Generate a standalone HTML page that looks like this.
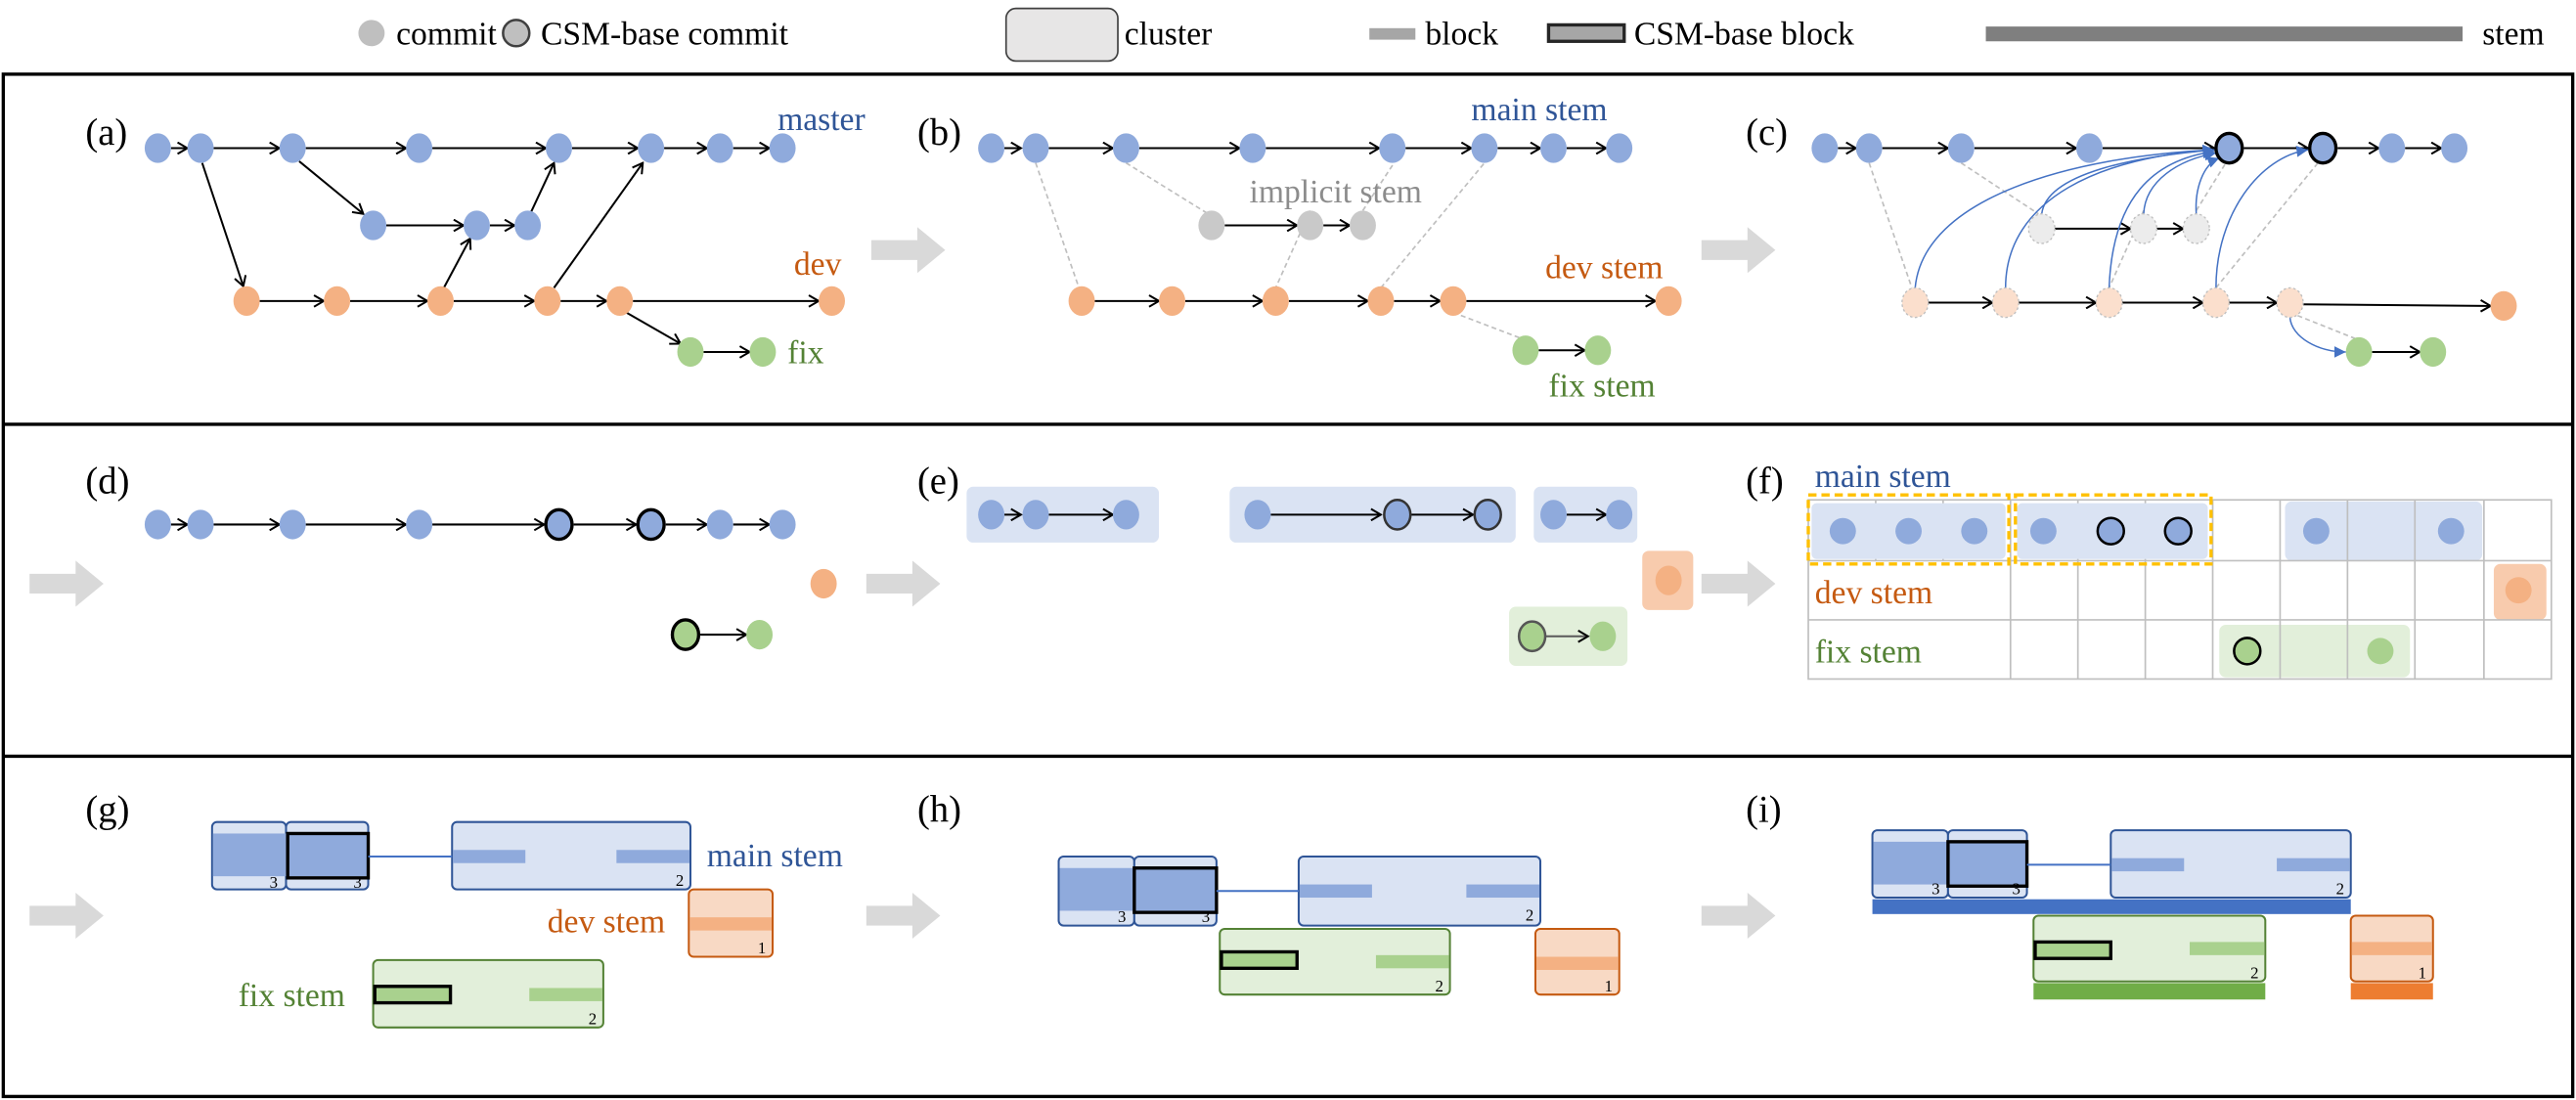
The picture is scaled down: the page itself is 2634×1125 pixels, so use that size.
<!DOCTYPE html>
<html><head><meta charset="utf-8"><style>html,body{margin:0;padding:0;background:#fff}svg{display:block}text{font-family:"Liberation Serif","Times New Roman","DejaVu Serif",serif !important}</style></head>
<body>
<svg width="2634" height="1125" viewBox="0 0 1567 669" xmlns="http://www.w3.org/2000/svg" font-family="Liberation Serif">
<defs>
<marker id="ar" markerWidth="8" markerHeight="8" refX="7" refY="4" orient="auto" markerUnits="userSpaceOnUse"><path d="M1,0.5 L7,4 L1,7.5" fill="none" stroke="#000" stroke-width="1.2"/></marker>
<marker id="ab" markerWidth="8" markerHeight="8" refX="7" refY="4" orient="auto" markerUnits="userSpaceOnUse"><path d="M0,0.5 L7,4 L0,7.5 Z" fill="#4472c4"/></marker>
<g id="gar"><polygon points="0,-6 28,-6 28,-14 45,0 28,14 28,6 0,6" fill="#d9d9d9"/></g>
</defs>
<rect width="1567" height="669" fill="#fff"/>
<!-- legend -->
<g font-size="20" font-family="Liberation Serif">
<circle cx="226" cy="20" r="8" fill="#bfbfbf"/><text x="241" y="27">commit</text>
<circle cx="314" cy="20" r="8" fill="#bfbfbf" stroke="#404040" stroke-width="1.5"/><text x="329" y="27">CSM-base commit</text>
<rect x="612" y="5" width="68" height="32" rx="6" fill="#e7e6e6" stroke="#404040" stroke-width="1"/><text x="684" y="27">cluster</text>
<rect x="833" y="17" width="28" height="7" fill="#a6a6a6"/><text x="867" y="27">block</text>
<rect x="942" y="15" width="46" height="10" fill="#a6a6a6" stroke="#262626" stroke-width="2"/><text x="994" y="27">CSM-base block</text>
<rect x="1208" y="16" width="290" height="9" fill="#7f7f7f"/><text x="1510" y="27">stem</text>
</g>
<!-- panels -->
<g fill="none" stroke="#000" stroke-width="2">
<rect x="2" y="45" width="1563" height="622"/>
<line x1="2" y1="258" x2="1565" y2="258"/><line x1="2" y1="460" x2="1565" y2="460"/>
</g>
<!-- gray arrows -->
<use href="#gar" x="530" y="152"/><use href="#gar" x="1035" y="152"/>
<use href="#gar" x="18" y="355"/><use href="#gar" x="527" y="355"/><use href="#gar" x="1035" y="355"/>
<use href="#gar" x="18" y="557"/><use href="#gar" x="527" y="557"/><use href="#gar" x="1035" y="557"/>
<g font-size="23" font-family="Liberation Serif"><text x="52" y="88">(a)</text><text x="558" y="88">(b)</text><text x="1062" y="88">(c)</text>
<text x="52" y="300">(d)</text><text x="558" y="300">(e)</text><text x="1062" y="300">(f)</text>
<text x="52" y="500">(g)</text><text x="558" y="500">(h)</text><text x="1062" y="500">(i)</text></g>

<!-- (a) -->
<g stroke="#000" stroke-width="1.2" marker-end="url(#ar)">
<line x1="104" y1="90" x2="114" y2="90"/><line x1="130" y1="90" x2="170" y2="90"/><line x1="186" y1="90" x2="247" y2="90"/><line x1="263" y1="90" x2="332" y2="90"/><line x1="348" y1="90" x2="388" y2="90"/><line x1="404" y1="90" x2="430" y2="90"/><line x1="446" y1="90" x2="468" y2="90"/>
<line x1="235" y1="137" x2="282" y2="137"/><line x1="298" y1="137" x2="313" y2="137"/>
<line x1="158" y1="183" x2="197" y2="183"/><line x1="213" y1="183" x2="260" y2="183"/><line x1="276" y1="183" x2="325" y2="183"/><line x1="341" y1="183" x2="369" y2="183"/><line x1="385" y1="183" x2="498" y2="183"/>
<line x1="428" y1="214" x2="456" y2="214"/>
<line x1="123" y1="99" x2="148" y2="174"/><line x1="182" y1="98" x2="221" y2="130"/><line x1="270" y1="175" x2="286" y2="145"/><line x1="323" y1="129" x2="337" y2="99"/><line x1="337" y1="175" x2="391" y2="99"/><line x1="381" y1="190" x2="414" y2="209"/>
</g>
<g fill="#8faadc"><ellipse cx="96" cy="90" rx="8" ry="9"/><ellipse cx="122" cy="90" rx="8" ry="9"/><ellipse cx="178" cy="90" rx="8" ry="9"/><ellipse cx="255" cy="90" rx="8" ry="9"/><ellipse cx="340" cy="90" rx="8" ry="9"/><ellipse cx="396" cy="90" rx="8" ry="9"/><ellipse cx="438" cy="90" rx="8" ry="9"/><ellipse cx="476" cy="90" rx="8" ry="9"/>
<ellipse cx="227" cy="137" rx="8" ry="9"/><ellipse cx="290" cy="137" rx="8" ry="9"/><ellipse cx="321" cy="137" rx="8" ry="9"/></g>
<g fill="#f4b183"><ellipse cx="150" cy="183" rx="8" ry="9"/><ellipse cx="205" cy="183" rx="8" ry="9"/><ellipse cx="268" cy="183" rx="8" ry="9"/><ellipse cx="333" cy="183" rx="8" ry="9"/><ellipse cx="377" cy="183" rx="8" ry="9"/><ellipse cx="506" cy="183" rx="8" ry="9"/></g>
<g fill="#a9d18e"><ellipse cx="420" cy="214" rx="8" ry="9"/><ellipse cx="464" cy="214" rx="8" ry="9"/></g>
<g font-size="20" font-family="Liberation Serif"><text x="473" y="79" fill="#2f5597">master</text><text x="483" y="167" fill="#c55a11">dev</text><text x="479" y="221" fill="#548235">fix</text></g>

<!-- (b) -->
<g stroke="#bfbfbf" stroke-width="1" stroke-dasharray="3,2">
<line x1="630" y1="99" x2="656" y2="174"/><line x1="685" y1="99" x2="735" y2="130"/><line x1="797" y1="128" x2="776" y2="175"/><line x1="829" y1="128" x2="848" y2="99"/><line x1="840" y1="175" x2="903" y2="99"/><line x1="884" y1="190" x2="926" y2="206"/>
</g>
<g stroke="#000" stroke-width="1.2" marker-end="url(#ar)">
<line x1="611" y1="90" x2="621" y2="90"/><line x1="638" y1="90" x2="677" y2="90"/><line x1="693" y1="90" x2="754" y2="90"/><line x1="770" y1="90" x2="839" y2="90"/><line x1="855" y1="90" x2="895" y2="90"/><line x1="911" y1="90" x2="937" y2="90"/><line x1="953" y1="90" x2="977" y2="90"/>
<line x1="745" y1="137" x2="789" y2="137"/><line x1="805" y1="137" x2="821" y2="137"/>
<line x1="666" y1="183" x2="705" y2="183"/><line x1="721" y1="183" x2="768" y2="183"/><line x1="784" y1="183" x2="832" y2="183"/><line x1="848" y1="183" x2="876" y2="183"/><line x1="892" y1="183" x2="1007" y2="183"/>
<line x1="936" y1="213" x2="964" y2="213"/>
</g>
<g fill="#8faadc"><ellipse cx="603" cy="90" rx="8" ry="9"/><ellipse cx="630" cy="90" rx="8" ry="9"/><ellipse cx="685" cy="90" rx="8" ry="9"/><ellipse cx="762" cy="90" rx="8" ry="9"/><ellipse cx="847" cy="90" rx="8" ry="9"/><ellipse cx="903" cy="90" rx="8" ry="9"/><ellipse cx="945" cy="90" rx="8" ry="9"/><ellipse cx="985" cy="90" rx="8" ry="9"/></g>
<g fill="#c9c9c9"><ellipse cx="737" cy="137" rx="8" ry="9"/><ellipse cx="797" cy="137" rx="8" ry="9"/><ellipse cx="829" cy="137" rx="8" ry="9"/></g>
<g fill="#f4b183"><ellipse cx="658" cy="183" rx="8" ry="9"/><ellipse cx="713" cy="183" rx="8" ry="9"/><ellipse cx="776" cy="183" rx="8" ry="9"/><ellipse cx="840" cy="183" rx="8" ry="9"/><ellipse cx="884" cy="183" rx="8" ry="9"/><ellipse cx="1015" cy="183" rx="8" ry="9"/></g>
<g fill="#a9d18e"><ellipse cx="928" cy="213" rx="8" ry="9"/><ellipse cx="972" cy="213" rx="8" ry="9"/></g>
<g font-size="20" font-family="Liberation Serif"><text x="895" y="73" fill="#2f5597">main stem</text><text x="760" y="123" fill="#8c8c8c">implicit stem</text><text x="940" y="169" fill="#c55a11">dev stem</text><text x="942" y="241" fill="#548235">fix stem</text></g>

<!-- (c) -->
<g stroke="#bfbfbf" stroke-width="1" stroke-dasharray="3,2">
<line x1="1137" y1="99" x2="1163" y2="175"/><line x1="1193" y1="99" x2="1240" y2="130"/><line x1="1304" y1="128" x2="1283" y2="175"/><line x1="1336" y1="128" x2="1354" y2="99"/><line x1="1348" y1="175" x2="1410" y2="99"/><line x1="1393" y1="190" x2="1433" y2="206"/>
</g>
<g stroke="#000" stroke-width="1.2" marker-end="url(#ar)">
<line x1="1118" y1="90" x2="1129" y2="90"/><line x1="1145" y1="90" x2="1185" y2="90"/><line x1="1201" y1="90" x2="1263" y2="90"/><line x1="1279" y1="90" x2="1347" y2="90"/><line x1="1365" y1="90" x2="1404" y2="90"/><line x1="1422" y1="90" x2="1447" y2="90"/><line x1="1463" y1="90" x2="1485" y2="90"/>
<line x1="1250" y1="139" x2="1296" y2="139"/><line x1="1312" y1="139" x2="1328" y2="139"/>
<line x1="1173" y1="184" x2="1212" y2="184"/><line x1="1228" y1="184" x2="1275" y2="184"/><line x1="1291" y1="184" x2="1340" y2="184"/><line x1="1356" y1="184" x2="1385" y2="184"/><line x1="1401" y1="185" x2="1515" y2="186"/>
<line x1="1443" y1="214" x2="1472" y2="214"/>
</g>
<g fill="none" stroke="#4472c4" stroke-width="0.9" marker-end="url(#ab)">
<path d="M1165,175 C1170,120 1260,95 1347,91"/><path d="M1220,175 C1220,120 1280,95 1347,91"/><path d="M1242,130 C1245,105 1300,95 1347,91"/><path d="M1283,175 C1285,120 1310,97 1347,92"/><path d="M1304,130 C1305,110 1325,97 1348,93"/><path d="M1336,130 C1335,115 1340,100 1350,96"/><path d="M1348,175 C1348,130 1375,95 1404,91"/><path d="M1393,193 C1394,205 1410,214 1427,214"/>
</g>
<g fill="#8faadc"><ellipse cx="1110" cy="90" rx="8" ry="9"/><ellipse cx="1137" cy="90" rx="8" ry="9"/><ellipse cx="1193" cy="90" rx="8" ry="9"/><ellipse cx="1271" cy="90" rx="8" ry="9"/><ellipse cx="1455" cy="90" rx="8" ry="9"/><ellipse cx="1493" cy="90" rx="8" ry="9"/>
<ellipse cx="1356" cy="90" rx="8" ry="9" stroke="#000" stroke-width="2"/><ellipse cx="1413" cy="90" rx="8" ry="9" stroke="#000" stroke-width="2"/></g>
<g fill="#ececec" stroke="#bfbfbf" stroke-width="0.8" stroke-dasharray="1.5,1.5"><ellipse cx="1242" cy="139" rx="8" ry="9"/><ellipse cx="1304" cy="139" rx="8" ry="9"/><ellipse cx="1336" cy="139" rx="8" ry="9"/></g>
<g fill="#fbdfcd" stroke="#bfbfbf" stroke-width="0.8" stroke-dasharray="1.5,1.5"><ellipse cx="1165" cy="184" rx="8" ry="9"/><ellipse cx="1220" cy="184" rx="8" ry="9"/><ellipse cx="1283" cy="184" rx="8" ry="9"/><ellipse cx="1348" cy="184" rx="8" ry="9"/><ellipse cx="1393" cy="184" rx="8" ry="9"/></g>
<ellipse cx="1523" cy="186" rx="8" ry="9" fill="#f4b183"/>
<g fill="#a9d18e"><ellipse cx="1435" cy="214" rx="8" ry="9"/><ellipse cx="1480" cy="214" rx="8" ry="9"/></g>

<!-- (d) -->
<g stroke="#000" stroke-width="1.2" marker-end="url(#ar)">
<line x1="104" y1="319" x2="114" y2="319"/><line x1="130" y1="319" x2="170" y2="319"/><line x1="186" y1="319" x2="247" y2="319"/><line x1="263" y1="319" x2="331" y2="319"/><line x1="349" y1="319" x2="387" y2="319"/><line x1="405" y1="319" x2="430" y2="319"/><line x1="446" y1="319" x2="468" y2="319"/>
<line x1="426" y1="386" x2="454" y2="386"/>
</g>
<g fill="#8faadc"><ellipse cx="96" cy="319" rx="8" ry="9"/><ellipse cx="122" cy="319" rx="8" ry="9"/><ellipse cx="178" cy="319" rx="8" ry="9"/><ellipse cx="255" cy="319" rx="8" ry="9"/><ellipse cx="438" cy="319" rx="8" ry="9"/><ellipse cx="476" cy="319" rx="8" ry="9"/>
<ellipse cx="340" cy="319" rx="8" ry="9" stroke="#000" stroke-width="2"/><ellipse cx="396" cy="319" rx="8" ry="9" stroke="#000" stroke-width="2"/></g>
<ellipse cx="501" cy="355" rx="8" ry="9" fill="#f4b183"/>
<ellipse cx="417" cy="386" rx="8" ry="9" fill="#a9d18e" stroke="#000" stroke-width="2"/><ellipse cx="462" cy="386" rx="8" ry="9" fill="#a9d18e"/>

<!-- (e) -->
<g fill="#dae3f3"><rect x="588" y="296" width="117" height="34" rx="4"/><rect x="748" y="296" width="174" height="34" rx="4"/><rect x="933" y="296" width="63" height="34" rx="4"/></g>
<rect x="999" y="335" width="31" height="36" rx="4" fill="#f8cbad"/>
<rect x="918" y="369" width="72" height="36" rx="4" fill="#e2efda"/>
<g stroke="#000" stroke-width="1.2" marker-end="url(#ar)">
<line x1="611" y1="313" x2="621" y2="313"/><line x1="638" y1="313" x2="677" y2="313"/><line x1="773" y1="313" x2="840" y2="313"/><line x1="858" y1="313" x2="896" y2="313"/><line x1="953" y1="313" x2="977" y2="313"/>
</g>
<line x1="940" y1="387" x2="966" y2="387" stroke="#595959" stroke-width="1.2" marker-end="url(#ar)"/>
<g fill="#8faadc"><ellipse cx="603" cy="313" rx="8" ry="9"/><ellipse cx="630" cy="313" rx="8" ry="9"/><ellipse cx="685" cy="313" rx="8" ry="9"/><ellipse cx="765" cy="313" rx="8" ry="9"/><ellipse cx="945" cy="313" rx="8" ry="9"/><ellipse cx="985" cy="313" rx="8" ry="9"/>
<ellipse cx="850" cy="313" rx="8" ry="9" stroke="#333" stroke-width="1.5"/><ellipse cx="905" cy="313" rx="8" ry="9" stroke="#333" stroke-width="1.5"/></g>
<ellipse cx="1015" cy="353" rx="8" ry="9" fill="#f4b183"/>
<ellipse cx="932" cy="387" rx="8" ry="9" fill="#a9d18e" stroke="#555" stroke-width="1.5"/><ellipse cx="975" cy="387" rx="8" ry="9" fill="#a9d18e"/>

<!-- (f) -->
<rect x="1390" y="305" width="120" height="36" rx="4" fill="#dae3f3"/>
<rect x="1517" y="343" width="32" height="34" rx="4" fill="#f8cbad"/>
<rect x="1350" y="380" width="116" height="32" rx="4" fill="#e2efda"/>
<g stroke="#bfbfbf" stroke-width="1" fill="none">
<rect x="1100" y="304" width="452" height="109"/>
<line x1="1100" y1="341" x2="1552" y2="341"/><line x1="1100" y1="377" x2="1552" y2="377"/>
<line x1="1141" y1="304" x2="1141" y2="341"/><line x1="1182" y1="304" x2="1182" y2="341"/>
<line x1="1223" y1="304" x2="1223" y2="413"/><line x1="1264" y1="304" x2="1264" y2="413"/><line x1="1305" y1="304" x2="1305" y2="413"/><line x1="1346" y1="304" x2="1346" y2="413"/><line x1="1387" y1="304" x2="1387" y2="413"/><line x1="1428" y1="304" x2="1428" y2="413"/><line x1="1469" y1="304" x2="1469" y2="413"/><line x1="1511" y1="304" x2="1511" y2="413"/>
</g>
<g fill="#dae3f3"><rect x="1102" y="306" width="118" height="34" rx="3"/><rect x="1227" y="306" width="116" height="34" rx="3"/></g>
<g fill="none" stroke="#ffc000" stroke-width="2" stroke-dasharray="5,3"><rect x="1100" y="301" width="122" height="42"/><rect x="1226" y="301" width="119" height="42"/></g>
<g fill="#8faadc"><circle cx="1121" cy="323" r="8"/><circle cx="1161" cy="323" r="8"/><circle cx="1201" cy="323" r="8"/><circle cx="1243" cy="323" r="8"/><circle cx="1409" cy="323" r="8"/><circle cx="1491" cy="323" r="8"/>
<circle cx="1284" cy="323" r="8" stroke="#000" stroke-width="1.5"/><circle cx="1325" cy="323" r="8" stroke="#000" stroke-width="1.5"/></g>
<circle cx="1532" cy="359" r="8" fill="#f4b183"/>
<circle cx="1367" cy="396" r="8" fill="#a9d18e" stroke="#000" stroke-width="1.5"/><circle cx="1448" cy="396" r="8" fill="#a9d18e"/>
<g font-size="20" font-family="Liberation Serif"><text x="1104" y="296" fill="#2f5597">main stem</text><text x="1104" y="367" fill="#c55a11">dev stem</text><text x="1104" y="403" fill="#548235">fix stem</text></g>

<!-- (g) -->
<g stroke="#2f5597" stroke-width="1.2" fill="#dae3f3">
<rect x="129" y="500" width="45" height="41" rx="3"/><rect x="174" y="500" width="50" height="41" rx="3"/><rect x="275" y="500" width="145" height="41" rx="3"/></g>
<rect x="129.6" y="507" width="94" height="26" fill="#8faadc"/>
<rect x="175" y="507" width="49" height="27" fill="none" stroke="#000" stroke-width="2"/>
<line x1="224" y1="521" x2="275" y2="521" stroke="#4472c4" stroke-width="1.2"/>
<rect x="275.6" y="517" width="44" height="8" fill="#8faadc"/><rect x="375" y="517" width="44.4" height="8" fill="#8faadc"/>
<rect x="419" y="541" width="51" height="41" rx="3" fill="#f8d9c4" stroke="#c55a11" stroke-width="1.2"/><rect x="419.6" y="558" width="49.8" height="8" fill="#f4b183"/>
<rect x="227" y="584" width="140" height="41" rx="3" fill="#e2efda" stroke="#548235" stroke-width="1.2"/><rect x="322" y="601" width="44.4" height="8" fill="#a9d18e"/>
<rect x="228" y="600" width="46" height="10" fill="#a9d18e" stroke="#000" stroke-width="2"/>
<g font-size="10" font-family="Liberation Serif"><text x="164" y="540">3</text><text x="215" y="540">3</text><text x="411" y="539">2</text><text x="461" y="580">1</text><text x="358" y="623">2</text></g>
<g font-size="20" font-family="Liberation Serif"><text x="430" y="527" fill="#2f5597">main stem</text><text x="333" y="567" fill="#c55a11">dev stem</text><text x="145" y="612" fill="#548235">fix stem</text></g>

<!-- (h) -->
<g stroke="#2f5597" stroke-width="1.2" fill="#dae3f3">
<rect x="644" y="521" width="46" height="42" rx="3"/><rect x="690" y="521" width="50" height="42" rx="3"/><rect x="790" y="521" width="147" height="42" rx="3"/></g>
<rect x="644.6" y="528" width="95" height="26" fill="#8faadc"/>
<rect x="690" y="528" width="50" height="27" fill="none" stroke="#000" stroke-width="2"/>
<line x1="740" y1="542" x2="790" y2="542" stroke="#4472c4" stroke-width="1.2"/>
<rect x="790.6" y="538" width="44" height="8" fill="#8faadc"/><rect x="892" y="538" width="44.4" height="8" fill="#8faadc"/>
<rect x="934" y="565" width="51" height="40" rx="3" fill="#f8d9c4" stroke="#c55a11" stroke-width="1.2"/><rect x="934.6" y="582" width="49.8" height="8" fill="#f4b183"/>
<rect x="742" y="565" width="140" height="40" rx="3" fill="#e2efda" stroke="#548235" stroke-width="1.2"/><rect x="837" y="581" width="44.4" height="8" fill="#a9d18e"/>
<rect x="743" y="579" width="46" height="10" fill="#a9d18e" stroke="#000" stroke-width="2"/>
<g font-size="10" font-family="Liberation Serif"><text x="680" y="561">3</text><text x="731" y="561">3</text><text x="928" y="560">2</text><text x="976" y="603">1</text><text x="873" y="603">2</text></g>

<!-- (i) -->
<rect x="1139" y="547" width="291" height="9" fill="#4472c4"/>
<rect x="1237" y="598" width="141" height="10" fill="#70ad47"/>
<rect x="1430" y="598" width="50" height="10" fill="#ed7d31"/>
<g stroke="#2f5597" stroke-width="1.2" fill="#dae3f3">
<rect x="1139" y="505" width="46" height="41" rx="3"/><rect x="1185" y="505" width="48" height="41" rx="3"/><rect x="1284" y="505" width="146" height="41" rx="3"/></g>
<rect x="1139.6" y="512" width="93" height="26" fill="#8faadc"/>
<rect x="1185" y="512" width="48" height="27" fill="none" stroke="#000" stroke-width="2"/>
<line x1="1233" y1="526" x2="1284" y2="526" stroke="#4472c4" stroke-width="1.2"/>
<rect x="1284.6" y="522" width="44" height="8" fill="#8faadc"/><rect x="1385" y="522" width="44.4" height="8" fill="#8faadc"/>
<rect x="1430" y="557" width="50" height="40" rx="3" fill="#f8d9c4" stroke="#c55a11" stroke-width="1.2"/><rect x="1430.6" y="573" width="48.8" height="8" fill="#f4b183"/>
<rect x="1237" y="557" width="141" height="40" rx="3" fill="#e2efda" stroke="#548235" stroke-width="1.2"/><rect x="1332" y="573" width="45.4" height="8" fill="#a9d18e"/>
<rect x="1238" y="573" width="46" height="10" fill="#a9d18e" stroke="#000" stroke-width="2"/>
<g font-size="10" font-family="Liberation Serif"><text x="1175" y="544">3</text><text x="1224" y="544">3</text><text x="1421" y="544">2</text><text x="1471" y="595">1</text><text x="1369" y="595">2</text></g>
</svg>
</body></html>
